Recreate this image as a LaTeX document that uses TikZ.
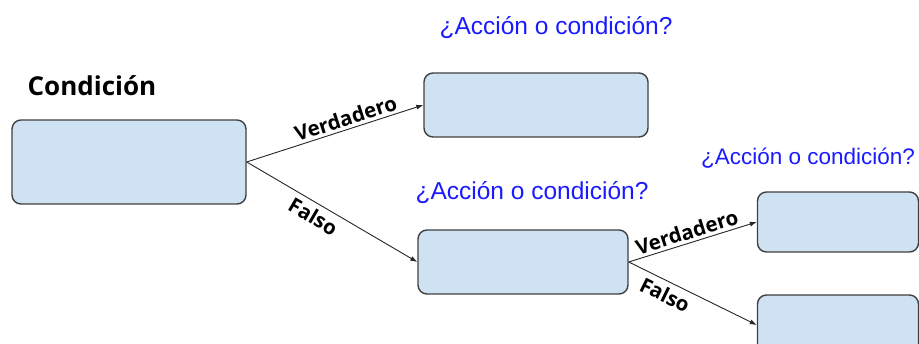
\documentclass[tikz,border=0pt]{standalone}
\usepackage{fontspec}
\setmainfont{Liberation Sans}
\newfontfamily\labfont{Open Sans}
\usetikzlibrary{arrows.meta}
\definecolor{boxfill}{HTML}{CFE2F3}
\definecolor{boxline}{HTML}{404040}
\definecolor{qblue}{HTML}{1A1AFF}
\tikzset{
  box/.style={draw=boxline, line width=1.4pt, fill=boxfill, rounded corners=9pt, inner sep=0pt},
  conn/.style={draw=black!85, line width=0.9pt, -{Latex[length=7pt,width=5pt]}},
  lab/.style={font=\labfont\bfseries\fontsize{20.5}{21}\selectfont, sloped, inner sep=3pt},
  q/.style={font=\fontsize{24.5}{26}\selectfont, text=qblue, inner sep=0pt},
  qs/.style={q, font=\fontsize{22.5}{24}\selectfont},
  title/.style={font=\labfont\bfseries\fontsize{26}{28}\selectfont, inner sep=0pt}
}
\begin{document}
\begin{tikzpicture}[x=1pt,y=-1pt]
\useasboundingbox (0,0) rectangle (919,344);
\node[box, minimum width=234pt, minimum height=84pt] (A) at (129,162) {};
\node[box, minimum width=224pt, minimum height=64pt] (B) at (536,105) {};
\node[box, minimum width=210pt, minimum height=64pt] (C) at (523,262) {};
\node[box, minimum width=161pt, minimum height=60pt] (D) at (838,222) {};
\node[box, minimum width=161pt, minimum height=60pt] (E) at (838,325) {};
\node[title] (t) at (92,86) {Condición};
\node[q] (q1) at (556,28) {¿Acción o condición?};
\node[q] (q2) at (532,193) {¿Acción o condición?};
\node[qs] (q3) at (808,158) {¿Acción o condición?};
\draw[conn] (A.east) -- node[lab, pos=0.58, above] (v1) {Verdadero} (B.west);
\draw[conn] (A.east) -- node[lab, pos=0.43, below=2pt] (f1) {Falso} (C.west);
\draw[conn] (C.east) -- node[lab, pos=0.48, above] (v2) {Verdadero} (D.west);
\draw[conn] (C.east) -- node[lab, pos=0.33, below=2pt] (f2) {Falso} (E.west);
\end{tikzpicture}
\end{document}
